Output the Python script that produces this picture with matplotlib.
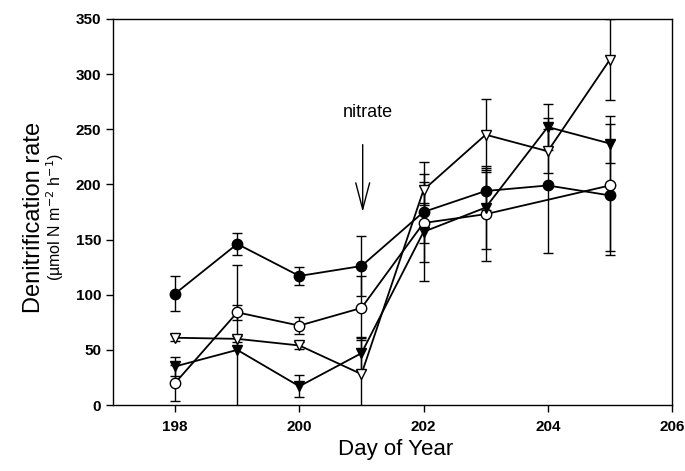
import numpy as np
import matplotlib
matplotlib.use("Agg")
import matplotlib.pyplot as plt

plt.rcParams['font.family'] = ['Liberation Sans', 'DejaVu Sans']

days = [198, 199, 200, 201, 202, 203, 204, 205]

# filled circles
fc_val = [101, 146, 117, 126, 175, 194, 199, 190]
fc_err = [16, 10, 8, 27, 45, 17, 61, 50]

# open circles (no value on day 204)
oc_days = [198, 199, 200, 201, 202, 203, 205]
oc_val = [20, 84, 72, 88, 165, 173, 199]
oc_err = [16, 7, 8, 29, 18, 42, 63]

# filled triangles
ft_val = [35, 50, 17, 47, 157, 179, 252, 237]
ft_err = [9, 77, 10, 15, 45, 38, 21, 18]

# open triangles
ot_val = [61, 60, 54, 28, 195, 245, 230, 313]
ot_err = [3, 3, 3, 33, 14, 32, 20, 37]

fig = plt.figure(figsize=(6.85, 4.71), dpi=100)
ax = fig.add_axes([0.165, 0.140, 0.816, 0.820])

style = dict(color="black", lw=1.3, ms=7.5, capsize=3.5, elinewidth=1.0,
             capthick=1.0, mec="black", mew=1.0)

ax.errorbar(days, fc_val, yerr=fc_err, fmt="-o", mfc="black", **style)
ax.errorbar(oc_days, oc_val, yerr=oc_err, fmt="-o", mfc="white", **style)
ax.errorbar(days, ft_val, yerr=ft_err, fmt="-v", mfc="black", **style)
ax.errorbar(days, ot_val, yerr=ot_err, fmt="-v", mfc="white", **style)

ax.set_xlim(197, 206)
ax.set_ylim(0, 350)
ax.set_xticks([198, 200, 202, 204, 206])
ax.set_yticks(np.arange(0, 351, 50))
ax.tick_params(direction="out", length=5, width=1, labelsize=11)
ax.tick_params(axis="x", pad=6)
for lab in ax.get_xticklabels() + ax.get_yticklabels():
    lab.set_fontweight("bold")
for sp in ax.spines.values():
    sp.set_linewidth(1.0)

fig.text(0.577, 0.045, "Day of Year", fontsize=16, ha="center", va="center")
fig.text(0.049, 0.539, "Denitrification rate", rotation=90, fontsize=17,
         ha="center", va="center")
fig.text(0.081, 0.539, r"(µmol N m$^{-2}$ h$^{-1}$)", rotation=90,
         fontsize=11.5, ha="center", va="center")

ax.annotate("", xy=(201.02, 175), xytext=(201.02, 236),
            arrowprops=dict(arrowstyle="->,head_length=1.9,head_width=0.5",
                            lw=1.0, color="black", mutation_scale=10,
                            shrinkA=0, shrinkB=0))
ax.text(201.1, 265, "nitrate", fontsize=13, ha="center", va="center")

fig.savefig("out.png", dpi=100)
